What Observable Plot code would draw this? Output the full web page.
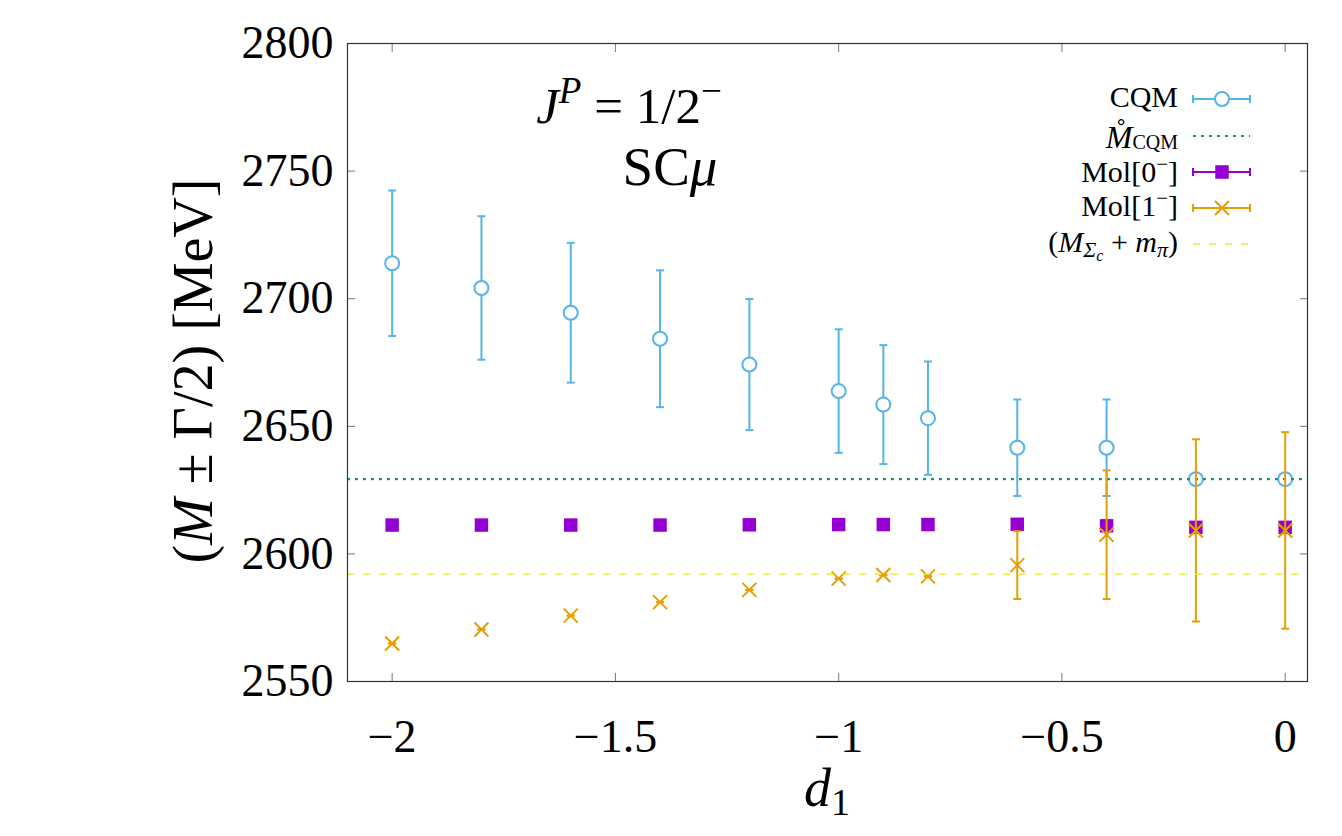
<!DOCTYPE html>
<html>
<head>
<meta charset="utf-8">
<script src="https://cdn.jsdelivr.net/npm/d3@7"></script>
<script src="https://cdn.jsdelivr.net/npm/@observablehq/plot@0.6"></script>
<style>
  html, body { margin: 0; padding: 0; background: #fff; }
  #chart svg { display: block; }
</style>
</head>
<body>
<div id="chart"></div>
<script>
// d1 coupling values scanned
const d1 = [-2, -1.8, -1.6, -1.4, -1.2, -1.0, -0.9, -0.8, -0.6, -0.4, -0.2, 0];

// CQM pole: mass and half width (MeV)
const cqmMass = [2713.9, 2704.2, 2694.5, 2684.3, 2674.2, 2663.8, 2658.5, 2653.2, 2641.6, 2641.6, 2629.3, 2629.3];
const cqmHalfWidth = [28.5, 28.1, 27.4, 26.8, 25.7, 24.2, 23.3, 22.2, 18.9, 18.9, 0, 0];

// Molecular pole dominated by the 0^- channel
const mol0Mass = [2611.3, 2611.3, 2611.3, 2611.3, 2611.4, 2611.5, 2611.5, 2611.5, 2611.6, 2611.0, 2610.4, 2610.4];
const mol0HalfWidth = [0, 0, 0, 0, 0, 0, 0, 0, 0, 0, 0, 0];

// Molecular pole dominated by the 1^- channel
const mol1Mass = [2564.9, 2570.4, 2575.8, 2581.1, 2585.9, 2590.3, 2591.7, 2591.2, 2595.6, 2607.5, 2609.2, 2609.2];
const mol1HalfWidth = [0, 0, 0, 0, 0, 0, 0, 0, 13.3, 25.2, 35.7, 38.5];

// Reference energies (MeV)
const bareCQM = 2629.3;
const thresholdSigmaCPi = 2592.0;

const xTicks = [-2, -1.5, -1, -0.5, 0];
const yTicks = [2550, 2600, 2650, 2700, 2750, 2800];

const colors = {
  cqm: "#56b4e9",
  bare: "#009e73",
  mol0: "#9400d3",
  mol1: "#e69f00",
  thr: "#f0e442"
};

const rows = (mass, hw) => d1.map((x, i) => ({x, m: mass[i], lo: mass[i] - hw[i], hi: mass[i] + hw[i]}));
const cqm = rows(cqmMass, cqmHalfWidth);
const mol0 = rows(mol0Mass, mol0HalfWidth);
const mol1 = rows(mol1Mass, mol1HalfWidth);

// gnuplot-like markers
const capSymbol = {draw(ctx) { ctx.moveTo(-4, 0); ctx.lineTo(4, 0); }};
const crossSymbol = {draw(ctx) { ctx.moveTo(-7, -7); ctx.lineTo(7, 7); ctx.moveTo(-7, 7); ctx.lineTo(7, -7); }};

const minus = d => (d < 0 ? "\u2212" + Math.abs(d) : String(d));

const errorbars = (data, color) => [
  Plot.ruleX(data, {x: "x", y1: "lo", y2: "hi", stroke: color, strokeWidth: 2}),
  Plot.dot(data, {x: "x", y: "lo", symbol: capSymbol, fill: "none", stroke: color, strokeWidth: 2}),
  Plot.dot(data, {x: "x", y: "hi", symbol: capSymbol, fill: "none", stroke: color, strokeWidth: 2})
];

const frameColor = "#333";
const tickColor = "#777";

const chart = Plot.plot({
  width: 1342,
  height: 836,
  marginLeft: 347,
  marginRight: 35,
  marginTop: 43,
  marginBottom: 155,
  x: {domain: [-2.1, 0.05], label: null},
  y: {domain: [2550, 2800], label: null},
  style: {fontFamily: "'Liberation Serif', serif", fontSize: "46px", color: "#000", background: "#fff"},
  marks: [
    // inward ticks on all four sides
    Plot.axisX(xTicks, {anchor: "bottom", fill: "none", stroke: tickColor, tickSize: 8, dy: -8}),
    Plot.axisX(xTicks, {anchor: "top", fill: "none", stroke: tickColor, tickSize: 8, dy: 8}),
    Plot.axisY(yTicks, {anchor: "left", fill: "none", stroke: tickColor, tickSize: 8, dx: 8}),
    Plot.axisY(yTicks, {anchor: "right", fill: "none", stroke: tickColor, tickSize: 8, dx: -8}),
    // tick labels
    Plot.axisX(xTicks, {anchor: "bottom", stroke: "none", tickSize: 0, tickPadding: 38, tickFormat: minus, label: null, fontSize: 46}),
    Plot.axisY(yTicks, {anchor: "left", stroke: "none", tickSize: 0, tickPadding: 14, tickFormat: d => String(d), label: null, fontSize: 46}),

    // CQM pole
    ...errorbars(cqm, colors.cqm),
    Plot.dot(cqm, {x: "x", y: "m", r: 7, fill: "#fff", stroke: colors.cqm, strokeWidth: 2}),

    // bare CQM mass
    Plot.ruleY([bareCQM], {stroke: colors.bare, strokeWidth: 2.2, strokeDasharray: "3,5"}),

    // Mol[0^-]
    ...errorbars(mol0, colors.mol0),
    Plot.dot(mol0, {x: "x", y: "m", symbol: "square", r: 7.6, fill: colors.mol0, stroke: "none"}),

    // Mol[1^-]
    ...errorbars(mol1, colors.mol1),
    Plot.dot(mol1, {x: "x", y: "m", symbol: crossSymbol, fill: "none", stroke: colors.mol1, strokeWidth: 2}),

    // Sigma_c pi threshold
    Plot.ruleY([thresholdSigmaCPi], {stroke: colors.thr, strokeWidth: 1.6, strokeDasharray: "7,9"}),

    Plot.frame({stroke: frameColor, strokeWidth: 1.2})
  ]
});

document.getElementById("chart").appendChild(chart);

// ---- annotations, axis titles and key drawn directly into the SVG ----
const svg = d3.select(chart);
const serif = "'Liberation Serif', serif";

function richText(parent, x, y, size, anchor, parts) {
  const t = parent.append("text")
    .attr("x", x).attr("y", y)
    .attr("font-family", serif)
    .attr("font-size", size)
    .attr("text-anchor", anchor)
    .attr("fill", "#000");
  for (const p of parts) {
    const s = t.append("tspan").text(p.t);
    if (p.i) s.attr("font-style", "italic");
    if (p.size) s.attr("font-size", p.size);
    if (p.dy) s.attr("dy", p.dy);
    if (p.dx) s.attr("dx", p.dx);
  }
  return t;
}

// Title block
richText(svg, 629, 123, 51, "middle", [
  {t: "J", i: true},
  {t: "P", i: true, size: 37, dy: -20},
  {t: " = 1/2", dy: 20},
  {t: "\u2212", size: 37, dy: -20}
]);
richText(svg, 670, 185, 55, "middle", [
  {t: "SC"},
  {t: "\u03bc", i: true}
]);

// Axis titles
richText(svg, 827, 806, 54, "middle", [
  {t: "d", i: true},
  {t: "1", size: 38, dy: 9}
]);
richText(svg, 0, 0, 56, "middle", [
  {t: "("},
  {t: "M", i: true},
  {t: " \u00b1 \u0393/2) [MeV]"}
]).attr("transform", "translate(212,371) rotate(-90)");

// Key
const key = svg.append("g");
const kx0 = 1193, kx1 = 1250, kmid = 1222, ktx = 1178, kfs = 30;
const keyRows = [
  {y: 99, ty: 107, type: "bars", color: colors.cqm, marker: "circle", label: [{t: "CQM"}]},
  {y: 136, ty: 148, type: "dotted", color: colors.bare, label: [{t: "M\u030A", i: true, size: 32}, {t: "CQM", size: 20, dy: 1}]},
  {y: 172, ty: 182, type: "bars", color: colors.mol0, marker: "square", label: [{t: "Mol[0"}, {t: "\u2212", size: 21, dy: -11}, {t: "]", dy: 11}]},
  {y: 208, ty: 216, type: "bars", color: colors.mol1, marker: "cross", label: [{t: "Mol[1"}, {t: "\u2212", size: 21, dy: -11}, {t: "]", dy: 11}]},
  {y: 244, ty: 252, type: "dashed", color: colors.thr, label: [{t: "("}, {t: "M", i: true}, {t: "\u03a3", i: true, size: 22, dy: 5}, {t: "c", i: true, size: 16, dy: 4}, {t: " + ", dy: -9}, {t: "m", i: true}, {t: "\u03c0", i: true, size: 22, dy: 5}, {t: ")", dy: -5}]}
];
for (const r of keyRows) {
  richText(key, ktx, r.ty, kfs, "end", r.label);
  if (r.type === "bars") {
    key.append("line").attr("x1", kx0).attr("x2", kx1).attr("y1", r.y).attr("y2", r.y)
      .attr("stroke", r.color).attr("stroke-width", 2);
    for (const x of [kx0, kx1]) {
      key.append("line").attr("x1", x).attr("x2", x).attr("y1", r.y - 4).attr("y2", r.y + 4)
        .attr("stroke", r.color).attr("stroke-width", 2);
    }
    if (r.marker === "circle") {
      key.append("circle").attr("cx", kmid).attr("cy", r.y).attr("r", 7)
        .attr("fill", "#fff").attr("stroke", r.color).attr("stroke-width", 2);
    } else if (r.marker === "square") {
      key.append("rect").attr("x", kmid - 6.75).attr("y", r.y - 6.75).attr("width", 13.5).attr("height", 13.5)
        .attr("fill", r.color);
    } else {
      key.append("path").attr("d", `M${kmid - 7},${r.y - 7}L${kmid + 7},${r.y + 7}M${kmid - 7},${r.y + 7}L${kmid + 7},${r.y - 7}`)
        .attr("stroke", r.color).attr("stroke-width", 2).attr("fill", "none");
    }
  } else {
    key.append("line").attr("x1", kx0).attr("x2", kx1).attr("y1", r.y).attr("y2", r.y)
      .attr("stroke", r.color)
      .attr("stroke-width", r.type === "dotted" ? 2.2 : 1.6)
      .attr("stroke-dasharray", r.type === "dotted" ? "3,5" : "7,9");
  }
}
</script>
</body>
</html>
